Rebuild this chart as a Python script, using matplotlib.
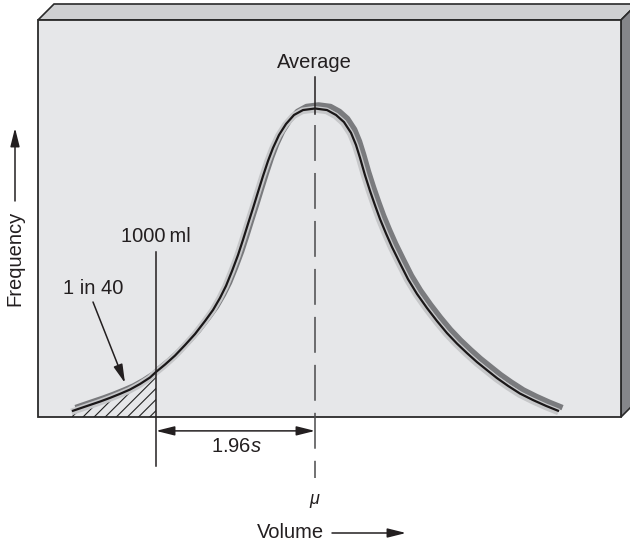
import matplotlib
matplotlib.use("Agg")
import matplotlib.pyplot as plt
from matplotlib.patches import Polygon
from matplotlib.transforms import offset_copy

plt.rcParams['font.family'] = ['Liberation Sans', 'DejaVu Sans']
plt.rcParams['mathtext.fontset'] = 'custom'
plt.rcParams['mathtext.rm'] = 'Liberation Sans'
plt.rcParams['mathtext.it'] = 'Liberation Sans:italic'
plt.rcParams['hatch.linewidth'] = 0.8

# ---- data (volume in units of s from the mean, relative frequency) ----
volume_s = [-2.996, -2.897, -2.774, -2.650, -2.527, -2.404, -2.281, -2.157,
            -2.034, -1.960, -1.849, -1.726, -1.603, -1.479, -1.356, -1.257,
            -1.171, -1.097, -1.023, -0.949, -0.888, -0.826, -0.764, -0.703,
            -0.641, -0.579, -0.518, -0.444, -0.357, -0.259, -0.148, 0.0,
            0.148, 0.259, 0.357, 0.444, 0.505, 0.555, 0.616, 0.678, 0.740,
            0.801, 0.875, 0.949, 1.048, 1.146, 1.257, 1.381, 1.504, 1.627,
            1.750, 1.874, 1.997, 2.120, 2.244, 2.379, 2.527, 2.687, 2.848,
            3.008]
frequency = [0.019, 0.028, 0.039, 0.050, 0.062, 0.075, 0.089, 0.107,
             0.128, 0.146, 0.170, 0.199, 0.233, 0.269, 0.311, 0.347,
             0.386, 0.425, 0.473, 0.525, 0.574, 0.626, 0.677, 0.729,
             0.781, 0.830, 0.872, 0.914, 0.950, 0.979, 0.995, 1.0,
             0.995, 0.979, 0.956, 0.921, 0.882, 0.840, 0.784, 0.733, 0.686,
             0.642, 0.595, 0.551, 0.498, 0.447, 0.399, 0.353, 0.311, 0.272,
             0.238, 0.207, 0.178, 0.152, 0.126, 0.101, 0.076, 0.055, 0.036,
             0.019]
limit_s = -1.96          # 1000 ml fill volume
mean_s = 0.0             # mu
limit_label = "1000\u2009ml"
tail_label = "1 in 40"
dist_label = "1.96$\\it{s}$"

W, H = 630, 544
fig = plt.figure(figsize=(W / 100, H / 100), dpi=100)

# background layer in pixel coordinates for the 3-D box and labels
bg = fig.add_axes([0, 0, 1, 1])
bg.set_xlim(0, W)
bg.set_ylim(H, 0)
bg.axis('off')

L, R, T, B, D = 38, 621, 20, 417, 16
edge = '#2a2a2a'
bg.add_patch(Polygon([(L, T), (L + D, T - D), (R + D, T - D), (R, T)],
                     closed=True, fc='#cfd0d2', ec=edge, lw=1.2, zorder=1))
bg.add_patch(Polygon([(R, T), (R + D, T - D), (R + D, B - D), (R, B)],
                     closed=True, fc='#85868a', ec=edge, lw=1.2, zorder=1))
bg.add_patch(Polygon([(L, T), (R, T), (R, B), (L, B)],
                     closed=True, fc='#e6e7e9', ec=edge, lw=1.3, zorder=2))

# data axes placed over the front face
MU = 315
ppx = (MU - 156) / 1.96
ppy = 308.5
ax = fig.add_axes([L / W, (H - B) / H, (R - L) / W, (B - T) / H])
ax.set_xlim(-(MU - L) / ppx, (R - MU) / ppx)
ax.set_ylim(0, (B - T) / ppy)
ax.axis('off')
ax.patch.set_alpha(0)

txt = '#231f20'
dark_tr = offset_copy(ax.transData, fig=fig, x=3.5, y=3.5, units='dots')
light_tr = offset_copy(ax.transData, fig=fig, x=-0.6, y=-0.8, units='dots')
common = dict(solid_capstyle='butt', solid_joinstyle='round', clip_on=False)
ax.plot(volume_s, frequency, color='#7a7b7e', lw=4.0, transform=dark_tr,
        zorder=3, **common)
ax.plot(volume_s, frequency, color='#c6c7c9', lw=4.8, transform=light_tr,
        zorder=4, **common)
ax.plot(volume_s, frequency, color='#1a1718', lw=1.6, zorder=5, **common)

# hatched tail below the limit
tx = [v for v in volume_s if v <= limit_s]
ty = frequency[:len(tx)]
ax.fill_between(tx, 0, ty, facecolor='none', edgecolor='#222222',
                hatch='///', linewidth=0, zorder=2.5)

# limit line and mean line
ax.plot([limit_s, limit_s], [-0.159, 0.535], color=txt, lw=1.1,
        zorder=6, clip_on=False)
ax.plot([mean_s, mean_s], [0.982, 1.102], color=txt, lw=1.1,
        zorder=6, clip_on=False)
ax.plot([mean_s, mean_s], [0.946, -0.198], color='#4a4a4c', lw=1.1,
        linestyle=(0, (23.5, 7.9)), zorder=6, clip_on=False)

# 1.96 s double arrow
ax.annotate('', xy=(mean_s, -0.045), xytext=(limit_s, -0.045),
            arrowprops=dict(arrowstyle='<|-|>,head_length=0.8,head_width=0.2',
                            mutation_scale=14, color=txt, lw=1.1,
                            shrinkA=0, shrinkB=0),
            annotation_clip=False)

fs = 14.5
bg.text(314, 62, "Average", fontsize=fs, color=txt, ha='center', va='center')
bg.text(156, 236, limit_label, fontsize=fs, color=txt, ha='center', va='center')
bg.text(93, 288, tail_label, fontsize=fs, color=txt, ha='center', va='center')
bg.text(236, 447, dist_label, fontsize=fs, color=txt, ha='center', va='center')
bg.text(314, 500, "\u03bc", fontsize=13, style='italic', color=txt,
        ha='center', va='center')
bg.text(290, 533, "Volume", fontsize=fs, color=txt, ha='center', va='center')
bg.text(15, 258, "Frequency", fontsize=fs, color=txt, ha='center',
        va='center', rotation=90)

arrow = dict(arrowstyle='-|>,head_length=0.8,head_width=0.2',
             mutation_scale=14, color=txt, lw=1.1, shrinkA=0, shrinkB=0)
bg.annotate('', xy=(125, 383), xytext=(93, 302), arrowprops=arrow, zorder=7)
bg.annotate('', xy=(15, 128), xytext=(15, 201), arrowprops=arrow)
bg.annotate('', xy=(406, 533), xytext=(332, 533), arrowprops=arrow)

fig.savefig('out.png', dpi=100)
